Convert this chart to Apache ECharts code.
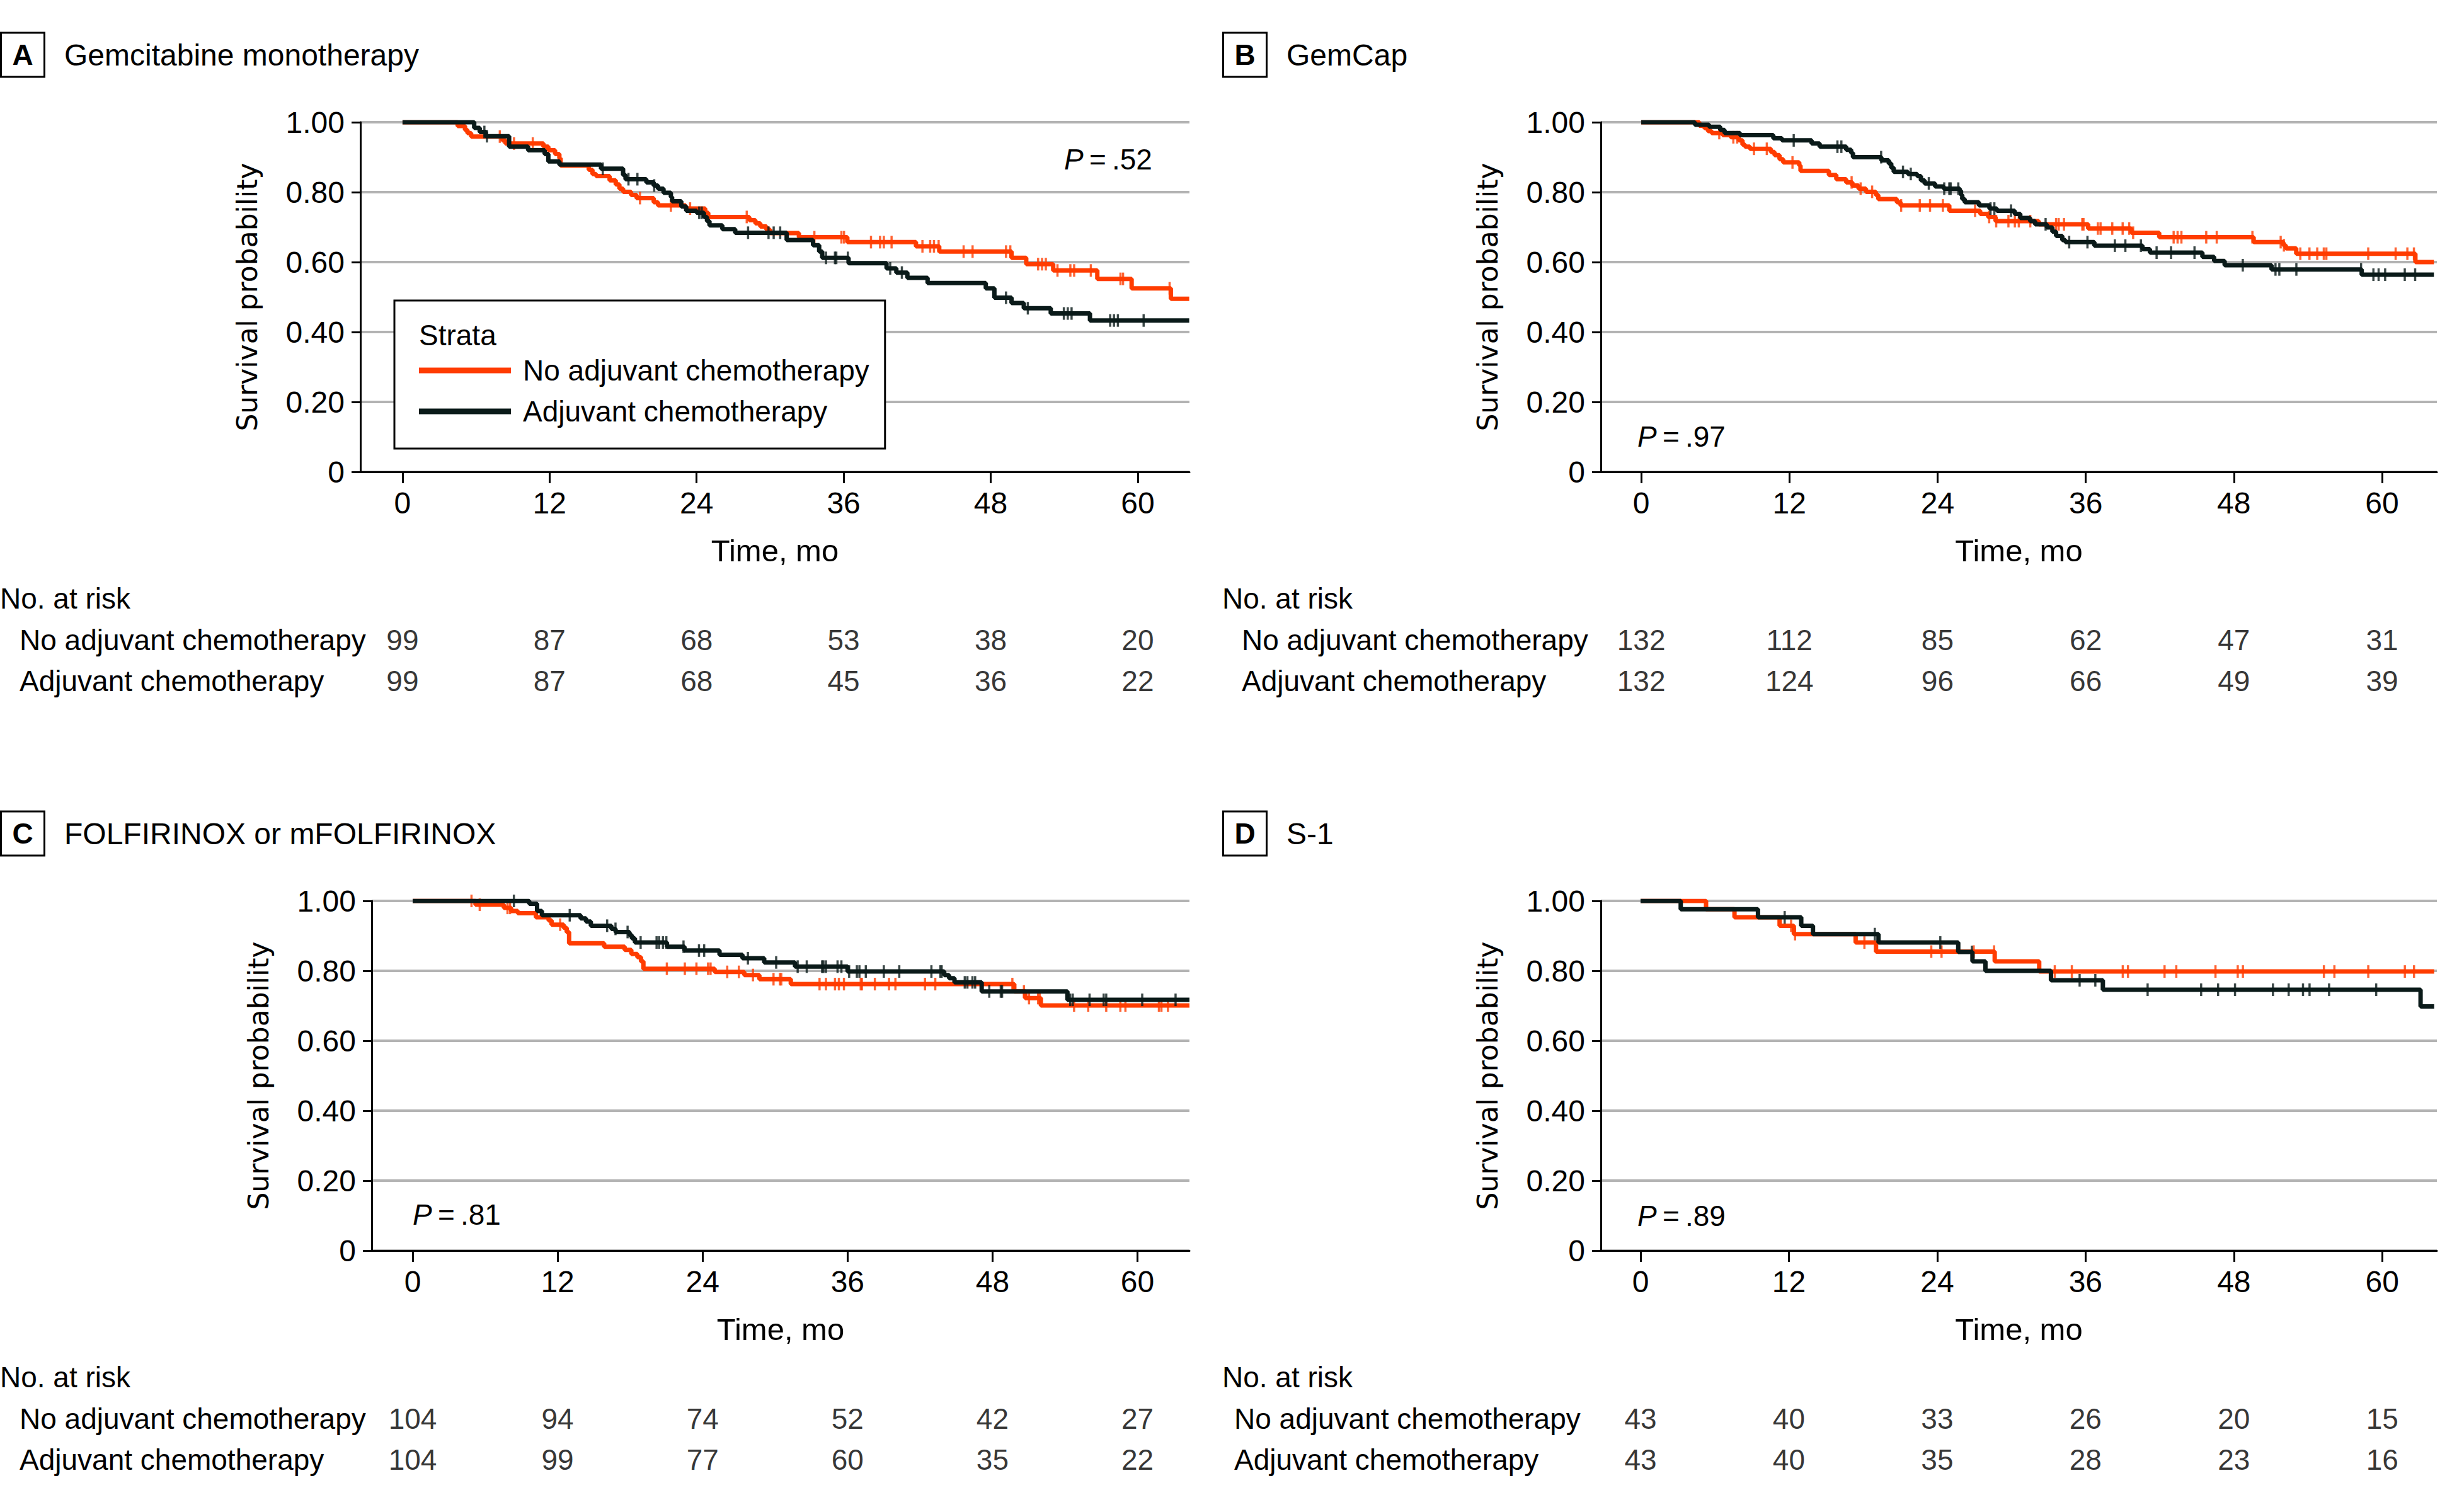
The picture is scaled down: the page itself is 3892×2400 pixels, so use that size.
<!DOCTYPE html>
<html>
<head>
<meta charset="utf-8">
<title>Survival by adjuvant chemotherapy</title>
<script src="https://cdn.jsdelivr.net/npm/echarts@6/dist/echarts.min.js"></script>
<style>
  html, body { margin: 0; padding: 0; background: #fff; }
  #chart { width: 3892px; height: 2400px; }
</style>
</head>
<body>
<div id="chart"></div>
<script>
// ticks and rows shared by all panels
var xTicks = [0, 12, 24, 36, 48, 60];
var riskTimes = [0, 12, 24, 36, 48, 60];
var rowNames = ['No adjuvant chemotherapy', 'Adjuvant chemotherapy'];

// A Gemcitabine monotherapy  [month, survival after the drop]
var aNoSteps = [[0,1],[4.5,0.989],[5.1,0.978],[5.3,0.969],[5.6,0.959],[8.15,0.948],[8.4,0.939],[11.5,0.930],[11.9,0.920],[12.45,0.909],[12.8,0.897],[12.9,0.876],[15.2,0.864],[15.5,0.852],[15.8,0.846],[16.9,0.834],[17.4,0.822],[17.7,0.810],[18.0,0.801],[18.65,0.792],[19.1,0.783],[20.5,0.771],[20.85,0.762],[23.1,0.753],[24.7,0.741],[24.95,0.729],[28.3,0.720],[28.8,0.711],[29.2,0.702],[29.7,0.693],[30.0,0.683],[32.35,0.671],[36.3,0.657],[41.9,0.645],[43.8,0.630],[49.7,0.612],[50.9,0.594],[53.1,0.576],[56.7,0.552],[59.5,0.525],[62.7,0.495],[64.2,0.495]];
var aAdjSteps = [[0,1],[5.85,0.984],[6.3,0.972],[6.8,0.960],[8.7,0.930],[10.25,0.920],[11.6,0.909],[11.9,0.888],[12.8,0.879],[16.2,0.867],[18.0,0.849],[18.2,0.837],[19.9,0.828],[20.5,0.819],[20.85,0.810],[21.3,0.798],[21.9,0.786],[22.0,0.774],[22.75,0.759],[23.15,0.747],[24.0,0.741],[24.6,0.729],[24.85,0.717],[25.05,0.705],[26.1,0.694],[27.15,0.684],[31.35,0.663],[33.5,0.648],[34.0,0.630],[34.25,0.612],[36.4,0.597],[39.5,0.582],[40.3,0.570],[41.2,0.555],[42.85,0.540],[47.6,0.525],[48.3,0.498],[49.7,0.483],[50.7,0.468],[52.9,0.453],[56.1,0.433],[64.2,0.433]];
var aNoCens = [7.94,9.1,10.63,19.38,21.9,23.47,28.09,33.61,35.82,36.03,38.23,38.97,39.28,39.91,42.43,43.06,43.37,43.75,45.79,46.52,49.25,49.6,51.87,52.19,52.5,53.45,54.5,54.81,56.17,58.59,58.8,62.6];
var aAdjCens = [6.68,6.89,16.34,18.44,19.17,20.54,24.21,24.42,28.2,29.87,30.29,30.82,34.56,35.29,35.4,36.34,39.8,40.75,49.25,51.03,53.97,54.29,54.6,57.75,58.06,58.38,60.48];
var aRiskNo = [99, 87, 68, 53, 38, 20];
var aRiskAdj = [99, 87, 68, 45, 36, 22];

// B GemCap
var bNoSteps = [[0,1],[4.7,0.990],[5.1,0.984],[5.4,0.975],[5.7,0.969],[6.6,0.963],[7.25,0.957],[7.9,0.948],[8.2,0.936],[8.4,0.930],[8.8,0.924],[10.5,0.915],[10.8,0.906],[11.2,0.894],[11.5,0.885],[12.8,0.876],[12.9,0.861],[15.2,0.849],[15.8,0.837],[16.6,0.828],[17.1,0.819],[17.6,0.810],[18.2,0.801],[19.0,0.792],[19.2,0.780],[20.7,0.771],[21.0,0.762],[24.95,0.747],[27.45,0.738],[28.1,0.729],[28.7,0.717],[32.2,0.708],[36.2,0.696],[39.7,0.684],[41.95,0.671],[49.6,0.657],[52.0,0.648],[52.2,0.639],[53.05,0.624],[62.7,0.600],[64.2,0.600]];
var bAdjSteps = [[0,1],[4.35,0.993],[5.5,0.987],[6.4,0.978],[6.75,0.969],[8.0,0.963],[10.7,0.954],[11.4,0.948],[13.8,0.939],[14.45,0.930],[16.6,0.921],[17.0,0.912],[17.15,0.900],[19.45,0.891],[20.05,0.882],[20.25,0.870],[20.45,0.858],[21.6,0.852],[22.35,0.846],[22.65,0.834],[22.95,0.825],[23.8,0.816],[24.5,0.810],[25.8,0.804],[25.9,0.792],[26.0,0.780],[26.2,0.771],[27.35,0.762],[28.2,0.753],[28.8,0.747],[30.25,0.738],[30.7,0.726],[31.5,0.717],[31.9,0.708],[32.85,0.699],[33.3,0.687],[33.6,0.675],[34.1,0.663],[34.35,0.657],[36.7,0.647],[40.6,0.637],[41.2,0.627],[45.45,0.615],[46.4,0.603],[47.25,0.591],[51.05,0.579],[58.35,0.564],[64.2,0.564]];
var bNoCens = [6.32,7.46,7.77,9.13,10.17,12.25,17.04,17.77,18.7,21.05,22.56,23.39,24.43,27.04,28.18,28.75,29.74,30.26,30.58,31.51,33.6,33.81,34.24,35.72,35.82,36.98,37.2,38.15,38.99,39.52,39.84,43.12,43.44,43.75,45.76,46.61,49.5,51.79,52.05,53.38,54.12,54.75,55.28,55.49,58.88,61.1,62.05,62.58];
var bAdjCens = [12.35,15.89,16.21,19.43,21.2,21.83,23.29,24.54,24.95,25.06,25.68,28.29,28.6,29.95,32.75,34.66,36.14,38.36,39.21,40.47,41.74,42.91,44.81,48.72,51.37,51.68,53.06,58.3,59.3,59.72,60.25,61.84,62.68];
var bRiskNo = [132, 112, 85, 62, 47, 31];
var bRiskAdj = [132, 124, 96, 66, 49, 39];

// C FOLFIRINOX or mFOLFIRINOX
var cNoSteps = [[0,1],[5.2,0.989],[7.55,0.980],[8.15,0.971],[8.7,0.965],[10.2,0.953],[11.25,0.944],[11.5,0.932],[12.5,0.923],[12.75,0.911],[12.95,0.879],[15.85,0.869],[17.55,0.860],[18.1,0.848],[18.6,0.839],[18.9,0.827],[19.1,0.806],[25.0,0.797],[27.45,0.788],[28.7,0.776],[31.3,0.762],[49.8,0.741],[50.7,0.722],[52.0,0.701],[64.3,0.701]];
var cAdjSteps = [[0,1],[9.65,0.992],[10.3,0.971],[10.7,0.959],[13.9,0.950],[14.35,0.941],[14.75,0.929],[16.45,0.920],[16.8,0.911],[17.95,0.902],[18.15,0.893],[18.4,0.881],[21.05,0.869],[22.5,0.858],[25.4,0.846],[27.3,0.836],[29.1,0.824],[31.65,0.812],[36.0,0.798],[44.0,0.788],[44.4,0.779],[44.85,0.767],[47.1,0.741],[54.2,0.717],[64.3,0.717]];
var cNoCens = [4.87,5.55,7.85,8.06,12.21,21.04,22.53,23.49,24.45,24.66,26.04,27.0,28.17,29.87,30.4,30.51,33.68,34.21,34.96,35.28,35.7,37.09,37.19,38.26,39.43,39.96,42.41,43.26,49.64,50.6,51.02,51.77,51.9,54.75,55.92,57.41,58.58,59.0,61.77,61.98,62.52];
var cAdjCens = [8.38,13.0,16.1,16.79,17.79,18.87,20.19,20.4,20.72,21.0,22.42,23.7,24.13,27.75,30.09,31.87,32.62,33.89,34.0,34.21,35.17,35.49,36.13,36.77,36.98,37.51,39.0,40.28,42.94,43.68,43.79,45.7,45.92,46.34,46.56,47.73,48.68,48.79,54.43,54.64,56.03,57.2,57.41,60.39,63.15];
var cRiskNo = [104, 94, 74, 52, 42, 27];
var cRiskAdj = [104, 99, 77, 60, 35, 22];

// D S-1
var dNoSteps = [[0,1],[5.3,0.976],[7.6,0.953],[11.25,0.929],[12.4,0.905],[17.4,0.881],[19.05,0.855],[28.65,0.827],[32.25,0.798],[64.2,0.798]];
var dAdjSteps = [[0,1],[3.25,0.976],[9.5,0.953],[13.0,0.929],[13.95,0.905],[19.25,0.881],[25.7,0.854],[26.85,0.827],[27.9,0.800],[33.2,0.773],[37.4,0.746],[63.1,0.698],[64.2,0.698]];
var dNoCens = [12.18,12.5,18.11,23.52,24.35,26.95,28.6,33.51,34.89,39.01,39.43,42.39,43.34,46.51,48.31,48.73,55.28,56.13,58.87,61.83,62.57];
var dAdjCens = [11.66,18.95,24.25,26.8,35.52,36.79,41.02,45.35,46.72,48.09,51.16,52.43,53.59,54.12,55.7,59.51];
var dRiskNo = [43, 40, 33, 26, 20, 15];
var dRiskAdj = [43, 40, 35, 28, 23, 16];

var ORANGE = '#ff3c00';
var DARK = '#0a1a19';
var FONT = "'Liberation Sans', Arial, sans-serif";

// step value of a curve at time t (used to sit the censor ticks on the line)
function survAt(steps, t) {
  var s = steps[0][1];
  for (var i = 0; i < steps.length; i++) {
    if (steps[i][0] <= t) s = steps[i][1];
  }
  return s;
}

var panels = [
  { letter: 'A', title: 'Gemcitabine monotherapy', p: '.52', no: aNoSteps, adj: aAdjSteps, noC: aNoCens, adjC: aAdjCens, rNo: aRiskNo, rAdj: aRiskAdj,
    left: 572, top: 194, width: 1316, xMin: -3.44, xMax: 64.22, tableTop: 983, rowX: 31, headX: 0, headY: 87, boxX: 1.5, pX: 1689, pY: 253 },
  { letter: 'B', title: 'GemCap', p: '.97', no: bNoSteps, adj: bAdjSteps, noC: bNoCens, adjC: bAdjCens, rNo: bRiskNo, rAdj: bRiskAdj,
    left: 2541, top: 194, width: 1327, xMin: -3.27, xMax: 64.44, tableTop: 983, rowX: 1971, headX: 1940, headY: 87, boxX: 1941.5, pX: 2599, pY: 693 },
  { letter: 'C', title: 'FOLFIRINOX or mFOLFIRINOX', p: '.81', no: cNoSteps, adj: cAdjSteps, noC: cNoCens, adjC: cAdjCens, rNo: cRiskNo, rAdj: cRiskAdj,
    left: 590, top: 1430, width: 1298, xMin: -3.39, xMax: 64.3, tableTop: 2219, rowX: 31, headX: 0, headY: 1323, boxX: 1.5, pX: 655, pY: 1928 },
  { letter: 'D', title: 'S-1', p: '.89', no: dNoSteps, adj: dAdjSteps, noC: dNoCens, adjC: dAdjCens, rNo: dRiskNo, rAdj: dRiskAdj,
    left: 2541, top: 1430, width: 1327, xMin: -3.21, xMax: 64.42, tableTop: 2219, rowX: 1959, headX: 1940, headY: 1323, boxX: 1941.5, pX: 2599, pY: 1930 }
];

var grids = [], xAxes = [], yAxes = [], series = [], graphics = [];

panels.forEach(function (pn, i) {
  grids[i] = { left: pn.left, top: pn.top, width: pn.width, height: 555 };
  grids[4 + i] = { left: pn.left, top: pn.tableTop, width: pn.width, height: 130 };

  xAxes[i] = {
    gridIndex: i, type: 'value', min: pn.xMin, max: pn.xMax,
    name: 'Time, mo', nameLocation: 'middle', nameGap: 100,
    nameTextStyle: { fontSize: 49, color: '#000', fontFamily: FONT },
    axisLine: { onZero: false, lineStyle: { color: '#000', width: 3 } },
    axisTick: { customValues: xTicks, length: 18, lineStyle: { color: '#000', width: 3 } },
    axisLabel: { customValues: xTicks, fontSize: 48, margin: 25, color: '#000', fontFamily: FONT },
    splitLine: { show: false }
  };
  yAxes[i] = {
    gridIndex: i, type: 'value', min: 0, max: 1, interval: 0.2,
    name: 'Survival probability', nameLocation: 'middle', nameGap: 158,
    nameTextStyle: { fontSize: 44, color: '#000', fontFamily: "'DejaVu Sans', sans-serif" },
    axisLine: { show: true, onZero: false, lineStyle: { color: '#000', width: 3 } },
    axisTick: { show: true, length: 14, lineStyle: { color: '#000', width: 3 } },
    axisLabel: { fontSize: 48, margin: 25, color: '#000', fontFamily: FONT,
      formatter: function (v) { return v === 0 ? '0' : v.toFixed(2); } },
    splitLine: { show: true, lineStyle: { color: '#b3b3b3', width: 4 } }
  };

  xAxes[4 + i] = { gridIndex: 4 + i, type: 'value', min: pn.xMin, max: pn.xMax, show: false };
  yAxes[4 + i] = {
    gridIndex: 4 + i, type: 'category', data: rowNames, inverse: true,
    axisLine: { show: false }, axisTick: { show: false }, splitLine: { show: false },
    axisLabel: { align: 'left', margin: pn.left - pn.rowX, fontSize: 46, color: '#000', fontFamily: FONT }
  };

  series.push({
    name: rowNames[0], type: 'line', xAxisIndex: i, yAxisIndex: i, data: pn.no,
    step: 'end', showSymbol: false, symbol: 'none', color: ORANGE,
    lineStyle: { width: 7, color: ORANGE }, z: 2
  });
  series.push({
    name: rowNames[0], type: 'scatter', xAxisIndex: i, yAxisIndex: i, silent: true,
    data: pn.noC.map(function (t) { return [t, survAt(pn.no, t)]; }),
    symbol: 'rect', symbolSize: [3.5, 20], itemStyle: { color: ORANGE }, z: 3
  });
  series.push({
    name: rowNames[1], type: 'line', xAxisIndex: i, yAxisIndex: i, data: pn.adj,
    step: 'end', showSymbol: false, symbol: 'none', color: DARK,
    lineStyle: { width: 7, color: DARK }, z: 4
  });
  series.push({
    name: rowNames[1], type: 'scatter', xAxisIndex: i, yAxisIndex: i, silent: true,
    data: pn.adjC.map(function (t) { return [t, survAt(pn.adj, t)]; }),
    symbol: 'rect', symbolSize: [3.5, 20], itemStyle: { color: DARK }, z: 5
  });

  // number at risk table
  var cells = [];
  riskTimes.forEach(function (t, k) {
    cells.push([t, rowNames[0], pn.rNo[k]]);
    cells.push([t, rowNames[1], pn.rAdj[k]]);
  });
  series.push({
    name: 'risk ' + pn.letter, type: 'scatter', xAxisIndex: 4 + i, yAxisIndex: 4 + i, silent: true,
    data: cells, symbolSize: 1, itemStyle: { color: 'rgba(0,0,0,0)' },
    label: { show: true, position: 'inside', formatter: function (p) { return String(p.value[2]); },
      fontSize: 46, color: '#000', fontFamily: FONT }
  });

  // panel letter, heading, P value, table header
  graphics.push({ type: 'rect', shape: { x: pn.boxX, y: pn.headY - 35, width: 69, height: 70 },
    style: { fill: 'none', stroke: '#000', lineWidth: 3 } });
  graphics.push({ type: 'text', x: pn.boxX + 34.5, y: pn.headY,
    style: { text: pn.letter, fontSize: 46, fontWeight: 'bold', fontFamily: FONT, fill: '#000', align: 'center', verticalAlign: 'middle' } });
  graphics.push({ type: 'text', x: pn.headX + 102, y: pn.headY,
    style: { text: pn.title, fontSize: 48, fontFamily: FONT, fill: '#000', verticalAlign: 'middle' } });
  graphics.push({ type: 'text', x: pn.pX, y: pn.pY, z: 100,
    style: { text: '{i|P}\u2009=\u2009' + pn.p, fontSize: 46, fontFamily: FONT, fill: '#000', verticalAlign: 'middle',
      rich: { i: { fontStyle: 'italic', fontSize: 46, fontFamily: FONT } } } });
  graphics.push({ type: 'text', x: pn.headX, y: pn.tableTop - 33,
    style: { text: 'No. at risk', fontSize: 46, fontFamily: FONT, fill: '#000', verticalAlign: 'middle' } });
});

graphics.push({ type: 'text', x: 665, y: 532, z: 100,
  style: { text: 'Strata', fontSize: 46, fontFamily: FONT, fill: '#000', verticalAlign: 'middle' } });

var chart = echarts.init(document.getElementById('chart'), null, { renderer: 'svg' });
chart.setOption({
  animation: false,
  backgroundColor: '#fff',
  textStyle: { fontFamily: FONT },
  grid: grids,
  xAxis: xAxes,
  yAxis: yAxes,
  legend: {
    data: [{ name: rowNames[0], icon: 'rect' }, { name: rowNames[1], icon: 'rect' }],
    left: 626, top: 477, orient: 'vertical', selectedMode: false,
    padding: [83, 25, 31, 39], itemWidth: 146, itemHeight: 9, itemGap: 9,
    borderColor: '#000', borderWidth: 3, borderRadius: 0, backgroundColor: '#fff',
    textStyle: { fontSize: 46, lineHeight: 56, color: '#000', fontFamily: FONT, padding: [0, 0, 0, 14] }
  },
  graphic: graphics,
  series: series
});
</script>
</body>
</html>
